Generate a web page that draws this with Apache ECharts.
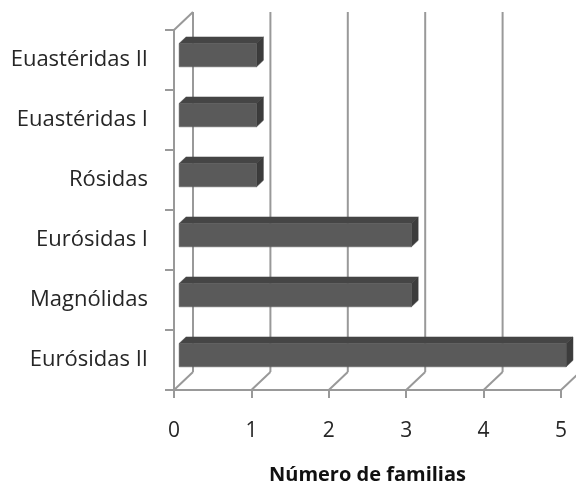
<!DOCTYPE html>
<html><head><meta charset="utf-8">
<script src="https://cdn.jsdelivr.net/npm/echarts@6/dist/echarts.min.js"></script>
<style>html,body{margin:0;padding:0;background:#fff}#c{width:576px;height:493px}</style>
</head><body><div id="c"></div>
<script>
var categories = ['Eurósidas II', 'Magnólidas', 'Eurósidas I', 'Rósidas', 'Euastéridas I', 'Euastéridas II'];
var values = [5, 3, 3, 1, 1, 1];
var xTicks = [0, 1, 2, 3, 4, 5];
var xName = 'Número de familias';

var DX = 19, DY = -18; // depth offset of back wall
var FONT = '"Open Sans", sans-serif';
var gridColor = '#999999';

var chart = echarts.init(document.getElementById('c'));

function wallItem(params, api) {
  var k = api.value(0);
  var cs = params.coordSys;
  var x = api.coord([k, 0])[0];
  var top = cs.y, bottom = cs.y + cs.height;
  var children = [
    {type: 'line', shape: {x1: x + DX, y1: top + DY, x2: x + DX, y2: bottom + DY}, style: {stroke: gridColor, lineWidth: 2}},
    {type: 'line', shape: {x1: x, y1: bottom, x2: x + DX, y2: bottom + DY}, style: {stroke: gridColor, lineWidth: 2}}
  ];
  if (k === 0) {
    children.push({type: 'line', shape: {x1: x, y1: top, x2: x + DX, y2: top + DY}, style: {stroke: gridColor, lineWidth: 2}});
  }
  return {type: 'group', children: children};
}

function barItem(params, api) {
  var v = api.value(0), idx = api.value(1);
  var p = api.coord([v, idx]);
  var p0 = api.coord([0, idx]);
  var band = api.size([0, 1])[1];
  var h = band * 0.39;
  var d1 = 0.27, t = 0.36;
  var x0 = p0[0] + DX * d1, x1 = p[0] + DX * d1;
  var yc = p[1] + DY * d1;
  var y0 = yc - h / 2, y1 = yc + h / 2;
  var ddx = DX * t, ddy = DY * t;
  return {type: 'group', children: [
    {type: 'polygon', shape: {points: [[x0, y0], [x1, y0], [x1 + ddx, y0 + ddy], [x0 + ddx, y0 + ddy]]}, style: {fill: '#454545', stroke: '#454545', lineWidth: 0.5}},
    {type: 'polygon', shape: {points: [[x1, y0], [x1 + ddx, y0 + ddy], [x1 + ddx, y1 + ddy], [x1, y1]]}, style: {fill: '#3c3c3c', stroke: '#3c3c3c', lineWidth: 0.5}},
    {type: 'rect', shape: {x: x0, y: y0, width: x1 - x0, height: h}, style: {fill: '#5a5a5a', stroke: '#5a5a5a', lineWidth: 0.5}}
  ]};
}

chart.setOption({
  animation: false,
  grid: {left: 174, right: 15, top: 30, bottom: 103, containLabel: false},
  xAxis: {
    type: 'value', min: 0, max: 5, interval: 1,
    axisLine: {show: true, lineStyle: {color: gridColor, width: 2}},
    axisTick: {show: true, length: 8, lineStyle: {color: gridColor, width: 2}},
    splitLine: {show: false},
    axisLabel: {margin: 31, fontSize: 21, color: '#262626', fontFamily: FONT},
    name: xName, nameLocation: 'middle', nameGap: 75,
    nameTextStyle: {fontSize: 20, fontWeight: 'bold', color: '#111', fontFamily: FONT}
  },
  yAxis: {
    type: 'category', data: categories,
    axisLine: {show: true, lineStyle: {color: gridColor, width: 2}},
    axisTick: {show: true, length: 9, lineStyle: {color: gridColor, width: 2}},
    axisLabel: {margin: 26, fontSize: 22, color: '#262626', fontFamily: FONT},
    splitLine: {show: false}
  },
  series: [
    {type: 'custom', renderItem: wallItem, data: xTicks.map(function (k) { return [k, 0]; }), z: 1, clip: false, silent: true},
    {type: 'custom', renderItem: barItem, data: values.map(function (v, i) { return [v, i]; }), z: 3, clip: false}
  ]
});
</script></body></html>
